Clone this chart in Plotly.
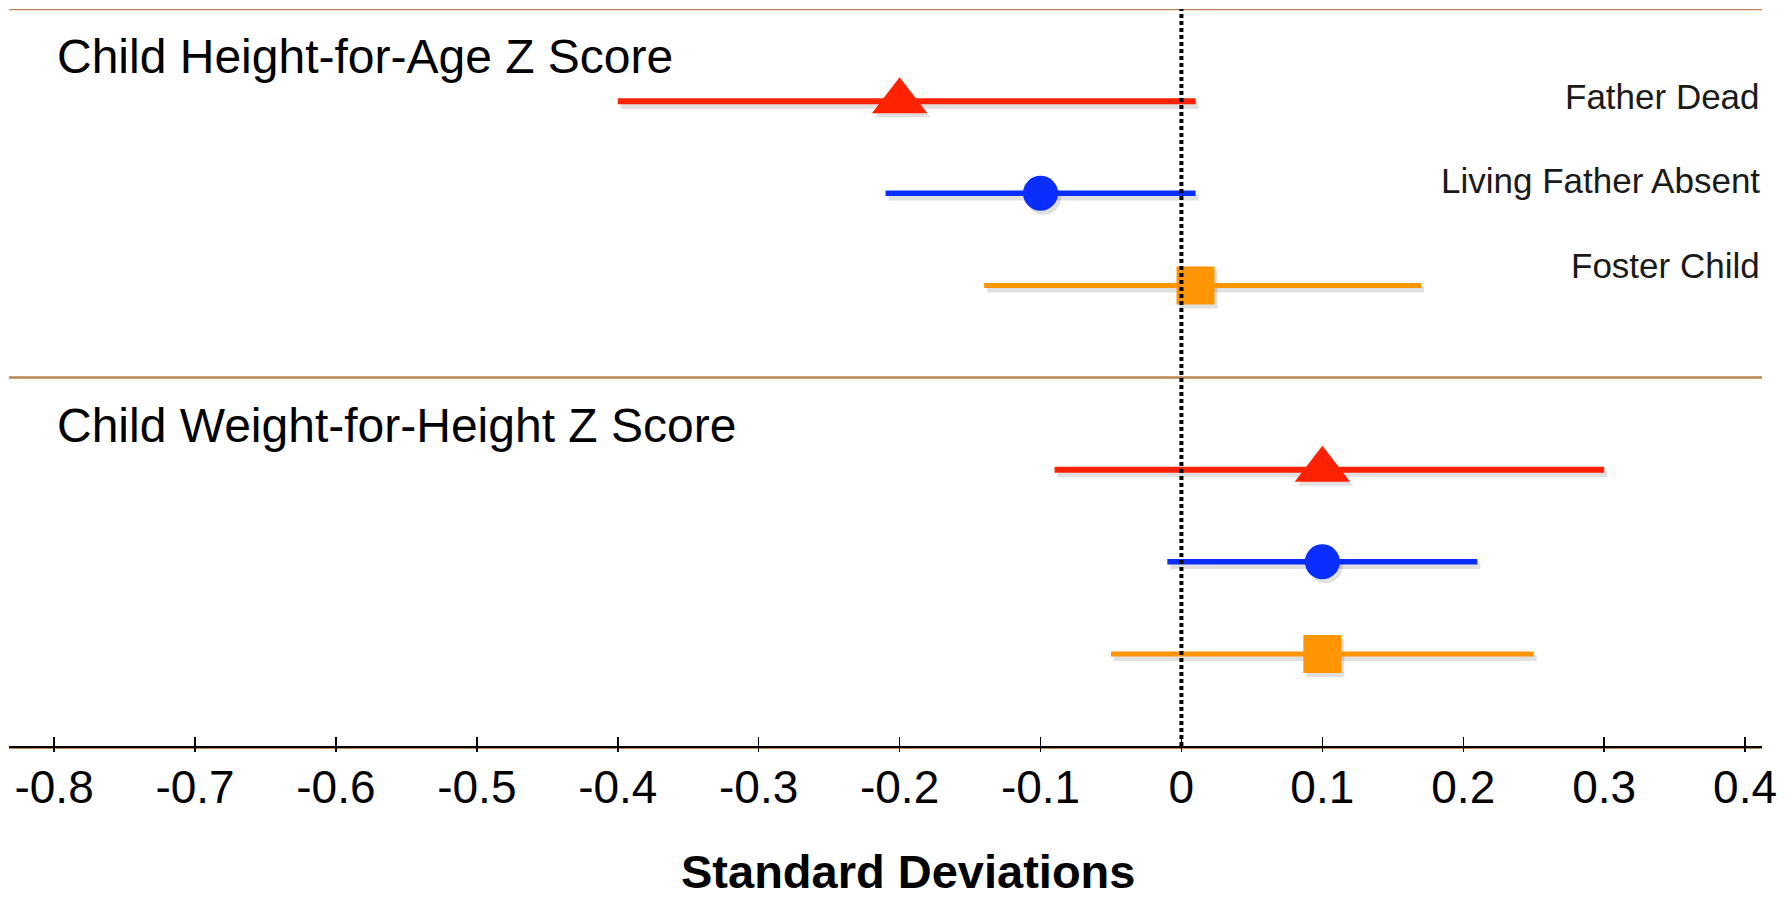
import plotly.graph_objects as go

# ---- data ----
groups = ["Child Height-for-Age Z Score", "Child Weight-for-Height Z Score"]
categories = ["Father Dead", "Living Father Absent", "Foster Child"]
# point estimates per group (rows follow categories)
estimates = [[-0.20, -0.10, 0.01],
             [0.10, 0.10, 0.10]]
ci_low = [[-0.40, -0.21, -0.14],
          [-0.09, -0.01, -0.05]]
ci_high = [[0.01, 0.01, 0.17],
           [0.30, 0.21, 0.25]]
tick_vals = [-0.8, -0.7, -0.6, -0.5, -0.4, -0.3, -0.2, -0.1, 0, 0.1, 0.2, 0.3, 0.4]
tick_text = ["-0.8", "-0.7", "-0.6", "-0.5", "-0.4", "-0.3", "-0.2", "-0.1", "0", "0.1", "0.2", "0.3", "0.4"]

# ---- styles ----
colors = ["#FF2200", "#0A2EFF", "#FF9500"]
symbols = ["triangle-up", "circle", "square"]
msizes = [48, 35, 38]
lwidths = [6, 5.5, 5]
FONT = "Liberation Sans, Arial, Helvetica, sans-serif"
BROWN = "#B9874F"
SHADOW = "rgba(0,0,0,0.12)"

W, H = 1787, 900
ML, MT, MR, MB = 9, 9, 25, 154
PLOT_W = W - ML - MR
PLOT_H = H - MT - MB

XR = [-0.832, 0.412]
ROWS_PER_GROUP = len(categories) + 1
n_units = ROWS_PER_GROUP * len(groups)

# shadow offset (pixels) converted through the axis scales
sx_px, sy_px = 3, 4
dx = sx_px * (XR[1] - XR[0]) / PLOT_W
dy = sy_px * n_units / PLOT_H

fig = go.Figure()

# shadows on the base axes (drawn underneath)
for gi, g in enumerate(groups):
    for ci, cat in enumerate(categories):
        y = ROWS_PER_GROUP * gi + 1 + ci
        est = estimates[gi][ci]
        fig.add_trace(go.Scatter(
            x=[est], y=[y], mode="markers", xaxis="x", yaxis="y",
            marker=dict(symbol=symbols[ci], size=msizes[ci], color=SHADOW, line=dict(width=0)),
            error_x=dict(type="data", symmetric=False,
                         array=[ci_high[gi][ci] - est],
                         arrayminus=[est - ci_low[gi][ci]],
                         color=SHADOW, thickness=lwidths[ci] + 1, width=0),
            showlegend=False, hoverinfo="skip", cliponaxis=False,
        ))

# real marks on the overlay axes (true scales)
for gi, g in enumerate(groups):
    for ci, cat in enumerate(categories):
        y = ROWS_PER_GROUP * gi + 1 + ci
        est = estimates[gi][ci]
        fig.add_trace(go.Scatter(
            x=[est], y=[y], mode="markers", xaxis="x2", yaxis="y2",
            marker=dict(symbol=symbols[ci], size=msizes[ci], color=colors[ci],
                        line=dict(width=0)),
            error_x=dict(type="data", symmetric=False,
                         array=[ci_high[gi][ci] - est],
                         arrayminus=[est - ci_low[gi][ci]],
                         color=colors[ci], thickness=lwidths[ci], width=0),
            showlegend=False, hoverinfo="skip", cliponaxis=False,
        ))

# group titles and separators
annotations = []
shapes = []
for gi, g in enumerate(groups):
    y0 = ROWS_PER_GROUP * gi
    annotations.append(dict(x=0.026, xref="paper", y=y0 + 0.52, yref="y2",
                            text=g, showarrow=False, xanchor="left", yanchor="middle",
                            font=dict(family=FONT, size=48, color="#000000")))
    shapes.append(dict(type="line", xref="paper", x0=0, x1=1, yref="y2", y0=y0, y1=y0,
                       line=dict(color=BROWN, width=2.5), layer="above"))

# category labels (top group only)
label_y = [0.95, 1.86, 2.78]
for ci, cat in enumerate(categories):
    annotations.append(dict(x=1.0, xref="paper", y=label_y[ci], yref="y2",
                            text=cat, showarrow=False, xanchor="right", yanchor="middle",
                            font=dict(family=FONT, size=35, color="#1a1a1a")))

# x-axis title
annotations.append(dict(x=0.5128, xref="paper", y=-0.1697, yref="paper",
                        text="<b>Standard Deviations</b>", showarrow=False,
                        xanchor="center", yanchor="middle",
                        font=dict(family=FONT, size=47, color="#000000")))

# zero reference line
shapes.append(dict(type="line", xref="x2", x0=0, x1=0, yref="paper", y0=0, y1=1,
                   line=dict(color="#000000", width=4, dash="4px,3px"), layer="above"))
# brownish underline of the axis
shapes.append(dict(type="line", xref="paper", x0=0, x1=1, yref="paper", ysizemode="pixel",
                   yanchor=0, y0=-2, y1=-2, line=dict(color=BROWN, width=2), layer="below"))

fig.update_layout(
    width=W, height=H,
    margin=dict(l=ML, r=MR, t=MT, b=MB, pad=0),
    paper_bgcolor="white", plot_bgcolor="white",
    showlegend=False,
    annotations=annotations, shapes=shapes,
    # base axes: shifted scales, used only for the soft shadows
    xaxis=dict(range=[XR[0] - dx, XR[1] - dx], visible=False, showgrid=False, zeroline=False),
    yaxis=dict(range=[n_units - dy, -dy], visible=False, showgrid=False, zeroline=False),
    # visible x axis with true scale
    xaxis2=dict(range=XR, overlaying="x", anchor="y2", side="bottom",
                tickmode="array", tickvals=tick_vals, ticktext=tick_text,
                ticks="inside", ticklen=9, tickwidth=1.5, tickcolor="#000000",
                showline=True, linecolor="#000000", linewidth=2,
                showgrid=False, zeroline=False,
                tickfont=dict(family=FONT, size=46, color="#000000")),
    xaxis4=dict(range=XR, overlaying="x", anchor="y2", side="bottom",
                tickmode="array", tickvals=tick_vals, ticks="outside", ticklen=5,
                tickwidth=1.5, tickcolor="#000000", showticklabels=False,
                showgrid=False, zeroline=False, showline=False),
    yaxis2=dict(range=[n_units, 0], overlaying="y", anchor="x2", visible=False,
                showgrid=False, zeroline=False),
)
# dummy trace to activate xaxis4
fig.add_trace(go.Scatter(x=[None], y=[None], xaxis="x4", yaxis="y2", showlegend=False,
                         hoverinfo="skip"))

fig.write_html("out.html",
               config={"displayModeBar": False, "staticPlot": True},
               post_script="document.body.style.margin='0';"
                           "document.body.style.overflow='hidden';"
                           "document.documentElement.style.overflow='hidden';")
